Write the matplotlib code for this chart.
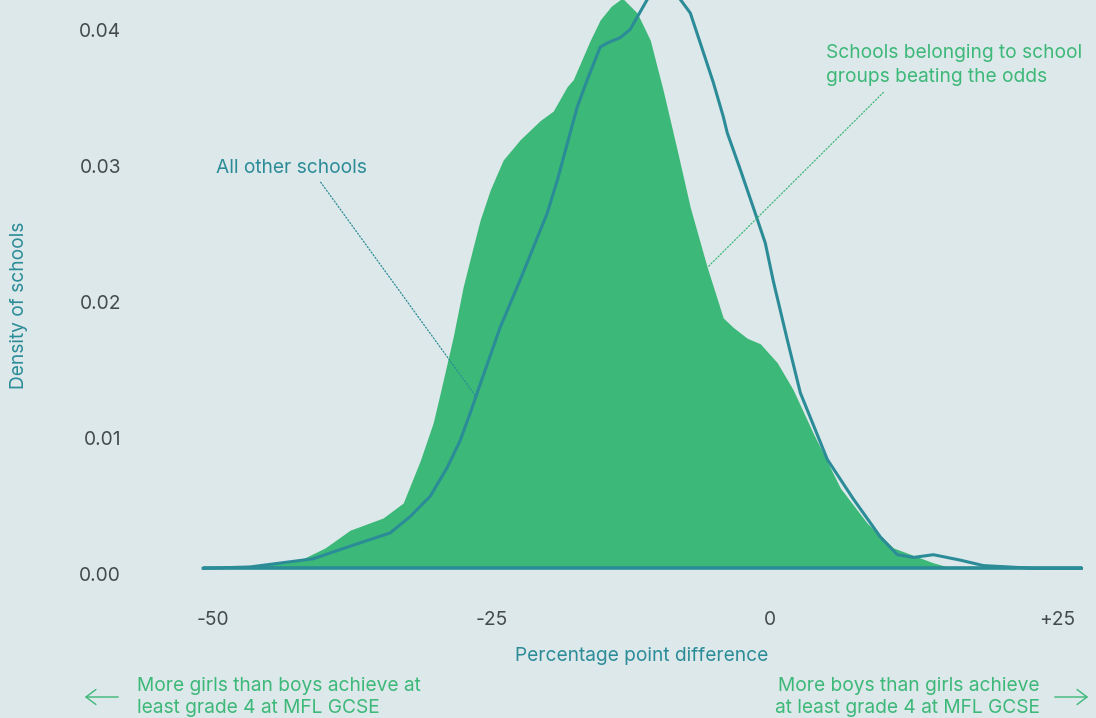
import numpy as np
import matplotlib.pyplot as plt
from matplotlib.patches import FancyArrowPatch
from matplotlib.transforms import ScaledTranslation

# percentage point difference vs density
x_groups = [-50.85, -45.74, -42.15, -39.91, -37.67, -34.71, -32.91, -31.39, -30.22, -29.50,
            -28.43, -27.53, -26.64, -26.01, -25.11, -23.95, -22.42, -20.63, -19.46, -18.21,
            -17.67, -16.14, -15.25, -14.26, -13.27, -11.93, -10.76, -9.60, -8.34, -7.17,
            -5.65, -4.22, -3.32, -2.06, -0.90, 0.63, 2.06, 3.86, 6.28, 8.70,
            11.03, 14.62, 16.41, 27.9]
d_groups = [0.0, 0.0002, 0.0006, 0.0015, 0.0028, 0.0037, 0.0048, 0.0079, 0.0107, 0.0132,
            0.0170, 0.0207, 0.0236, 0.0256, 0.0278, 0.0300, 0.0315, 0.0329, 0.0336, 0.0354,
            0.0359, 0.0388, 0.0403, 0.0413, 0.0419, 0.0408, 0.0388, 0.0351, 0.0307, 0.0265,
            0.0221, 0.0184, 0.0177, 0.0169, 0.0165, 0.0151, 0.0131, 0.0099, 0.0059, 0.0033,
            0.0015, 0.0004, 0.0, 0.0]

x_other = [-50.85, -46.64, -40.99, -37.04, -34.08, -32.29, -30.49, -28.97, -27.80, -26.91,
           -26.19, -24.22, -22.42, -20.00, -19.10, -17.31, -16.41, -15.25, -14.62, -13.45,
           -12.56, -11.03, -9.51, -8.07, -7.17, -6.28, -5.11, -4.22, -3.86, -2.69,
           -1.52, -0.45, 0.27, 1.52, 2.69, 5.11, 7.44, 9.87, 11.39, 12.83,
           14.62, 17.04, 19.10, 23.59, 27.9]
d_other = [0.0, 0.0001, 0.0007, 0.0018, 0.0026, 0.0038, 0.0053, 0.0074, 0.0094, 0.0114,
           0.0131, 0.0177, 0.0212, 0.0261, 0.0285, 0.0339, 0.0359, 0.0383, 0.0386, 0.0390,
           0.0396, 0.0418, 0.0432, 0.0418, 0.0408, 0.0386, 0.0357, 0.0332, 0.0320, 0.0293,
           0.0265, 0.0239, 0.0211, 0.0168, 0.0129, 0.0080, 0.0051, 0.0023, 0.0010, 0.0008,
           0.0010, 0.0006, 0.0002, 0.0, 0.0]

xticks = [-50, -25, 0, 25]
xtick_labels = ['-50', '-25', '0', '+25']
yticks = [0.00, 0.01, 0.02, 0.03, 0.04]

bg = '#dde8ea'
green = '#3cb878'
teal = '#2b8c98'
grey = '#444b4e'
fs = 13.8

plt.rcParams['font.family'] = ['Inter', 'DejaVu Sans']

fig = plt.figure(figsize=(10.96, 7.18), dpi=100, facecolor=bg)
ax = fig.add_axes([0.1838, 0.199, 0.804, 0.801], facecolor=bg)

ax.fill_between(x_groups, d_groups, 0, color=green, lw=0)
ax.plot(x_other, d_other, color=teal, lw=2.2, solid_joinstyle='round')
ax.plot([min(x_other), max(x_other)], [0, 0], color=teal, lw=2.6, solid_capstyle='butt')

ax.set_xlim(-51, 28)
ax.set_ylim(-0.0005, 0.04176)
for s in ax.spines.values():
    s.set_visible(False)

ax.set_xticks(xticks)
ax.set_xticklabels(xtick_labels)
ax.set_yticks(yticks)
ax.set_yticklabels(['%.2f' % v for v in yticks])
ax.tick_params(axis='both', length=0, labelsize=fs, labelcolor=grey)
ax.tick_params(axis='x', pad=26)
ax.tick_params(axis='y', pad=58)

# small nudges so labels sit where the reference has them
down = ScaledTranslation(0, -4 / 72, fig.dpi_scale_trans)
for lab in ax.get_yticklabels():
    lab.set_transform(lab.get_transform() + down)
right = ScaledTranslation(6 / 72, 0, fig.dpi_scale_trans)
last = ax.get_xticklabels()[-1]
last.set_transform(last.get_transform() + right)

ax.set_xlabel('Percentage point difference', color=teal, fontsize=fs, labelpad=13)
fig.text(0.017, 0.575, 'Density of schools', color=teal, fontsize=fs,
         rotation=90, ha='center', va='center')

# annotations
ax.annotate('All other schools', xy=(-26.46, 0.0127), xytext=(-49.7, 0.0294),
            color=teal, fontsize=fs, ha='left', va='center',
            arrowprops=dict(arrowstyle='-', color=teal, lw=0.9, ls=':',
                            shrinkA=2, shrinkB=0, relpos=(0.67, 0.0)))
ax.annotate('Schools belonging to school\ngroups beating the odds',
            xy=(-5.65, 0.0221), xytext=(5.0, 0.0370),
            color=green, fontsize=fs, ha='left', va='center', linespacing=1.42,
            arrowprops=dict(arrowstyle='-', color=green, lw=0.9, ls=':',
                            shrinkA=4, shrinkB=0, relpos=(0.25, 0.0)))

ytxt = 1 - 697 / 718
fig.text(137 / 1096, ytxt, 'More girls than boys achieve at\nleast grade 4 at MFL GCSE',
         color=green, fontsize=fs, ha='left', va='center', linespacing=1.3)
fig.text(1040 / 1096, ytxt, 'More boys than girls achieve\nat least grade 4 at MFL GCSE',
         color=green, fontsize=fs, ha='right', va='center', linespacing=1.3)
for x0, x1 in [(121, 82), (1052, 1091)]:
    fig.patches.append(FancyArrowPatch(
        (x0 / 1096, ytxt), (x1 / 1096, ytxt), transform=fig.transFigure,
        arrowstyle='->,head_length=0.6,head_width=0.45', color=green, lw=1.0,
        mutation_scale=12))

fig.savefig('out.png', dpi=100, facecolor=bg)
